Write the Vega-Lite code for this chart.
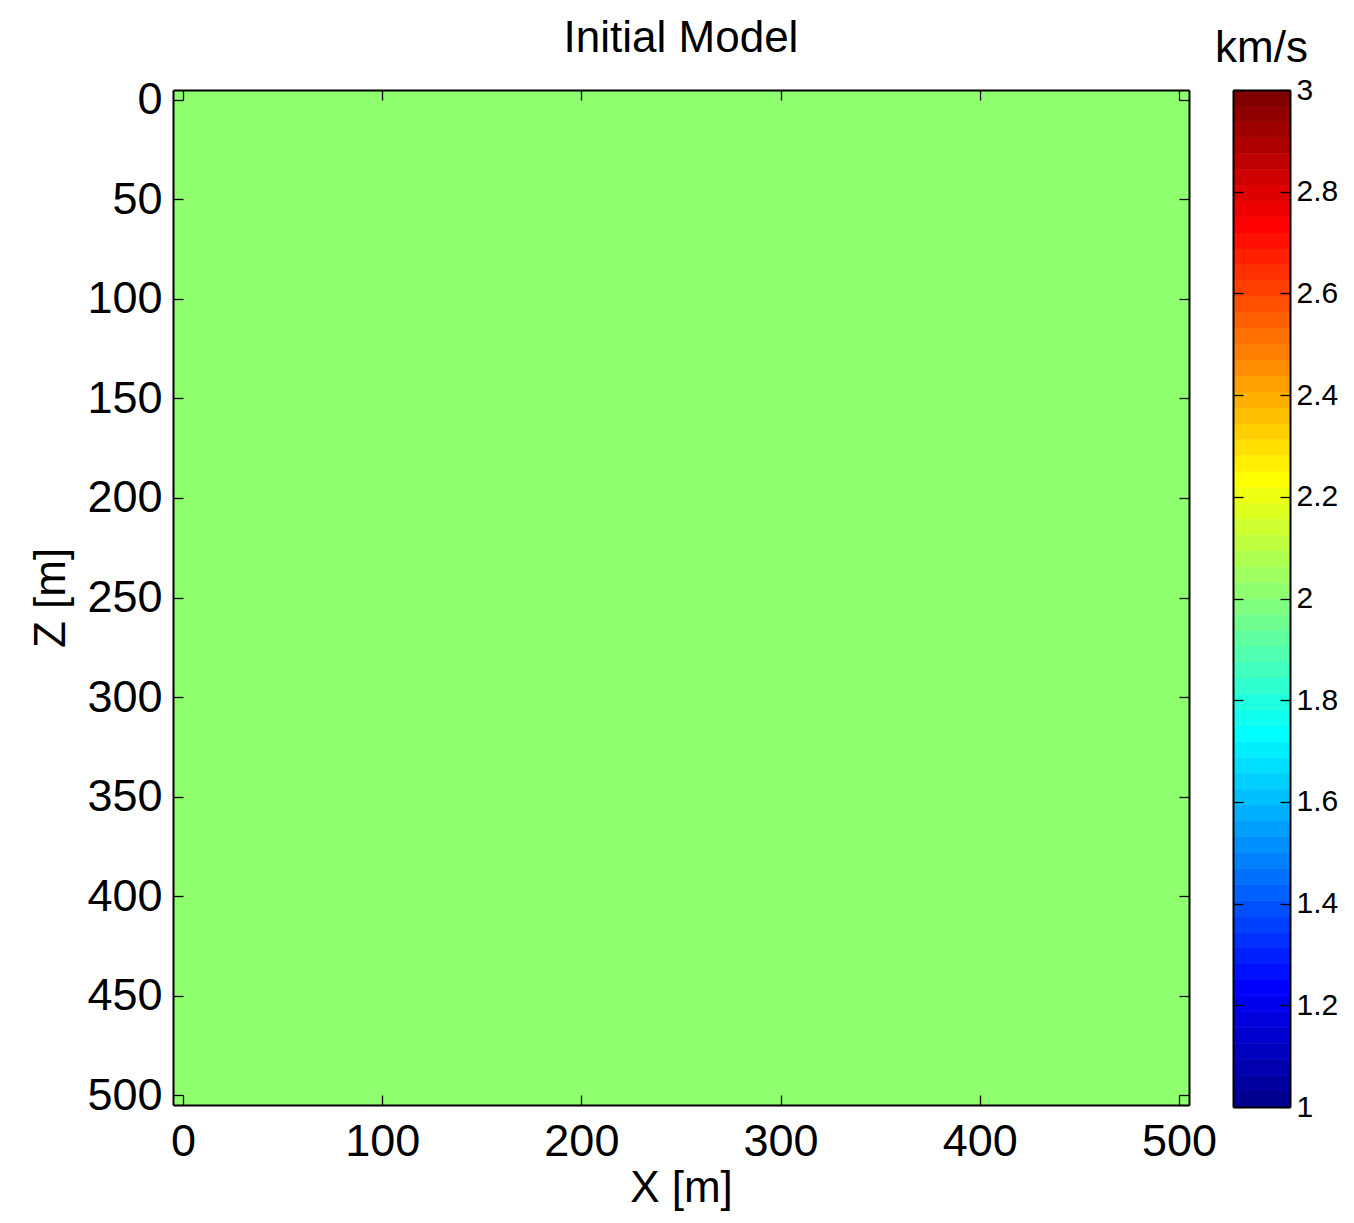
{
  "$schema": "https://vega.github.io/schema/vega-lite/v6.json",
  "background": "white",
  "padding": {"left": 29, "top": 16, "right": 5, "bottom": 5},
  "spacing": 44,
  "bounds": "flush",
  "resolve": {"scale": {"color": "independent"}},
  "config": {
    "font": "Liberation Sans",
    "view": {"stroke": null},
    "axis": {
      "grid": false,
      "domain": true,
      "domainColor": "black",
      "domainWidth": 2,
      "tickColor": "black",
      "tickSize": -10,
      "tickWidth": 1.3,
      "labelColor": "black",
      "labelFontSize": 45,
      "labelFont": "Liberation Sans",
      "titleColor": "black",
      "titleFontSize": 44,
      "titleFont": "Liberation Sans",
      "titleFontWeight": "normal",
      "zindex": 1
    },
    "title": {"color": "black", "font": "Liberation Sans", "fontWeight": "normal", "fontSize": 44}
  },
  "hconcat": [
    {
      "width": 1016,
      "height": 1015,
      "title": {"text": "Initial Model", "frame": "group", "anchor": "middle", "baseline": "alphabetic", "offset": 0, "dy": 18},
      "data": {"values": [{"x0": -5, "x1": 505, "z0": -5, "z1": 505, "v": 2}]},
      "layer": [
        {
          "mark": {"type": "rect"},
          "encoding": {
            "x": {"field": "x0", "type": "quantitative", "scale": {"domain": [-5, 505], "nice": false, "zero": false},
                  "axis": {"orient": "bottom", "values": [0, 100, 200, 300, 400, 500], "title": "X [m]", "labelPadding": 24, "titlePadding": 2, "zindex": 1}},
            "x2": {"field": "x1"},
            "y": {"field": "z0", "type": "quantitative", "scale": {"domain": [-5, 505], "reverse": true, "nice": false, "zero": false},
                  "axis": {"orient": "left", "values": [0, 50, 100, 150, 200, 250, 300, 350, 400, 450, 500], "title": "Z [m]", "labelPadding": 21, "titlePadding": 13, "zindex": 1}},
            "y2": {"field": "z1"},
            "color": {"field": "v", "type": "quantitative", "legend": null,
                      "scale": {"type": "quantize", "domain": [1, 3], "range": ["#00008F","#00009F","#0000AF","#0000BF","#0000CF","#0000DF","#0000EF","#0000FF","#0010FF","#0020FF","#0030FF","#0040FF","#0050FF","#0060FF","#0070FF","#0080FF","#008FFF","#009FFF","#00AFFF","#00BFFF","#00CFFF","#00DFFF","#00EFFF","#00FFFF","#10FFEF","#20FFDF","#30FFCF","#40FFBF","#50FFAF","#60FF9F","#70FF8F","#80FF80","#8FFF70","#9FFF60","#AFFF50","#BFFF40","#CFFF30","#DFFF20","#EFFF10","#FFFF00","#FFEF00","#FFDF00","#FFCF00","#FFBF00","#FFAF00","#FF9F00","#FF8F00","#FF8000","#FF7000","#FF6000","#FF5000","#FF4000","#FF3000","#FF2000","#FF1000","#FF0000","#EF0000","#DF0000","#CF0000","#BF0000","#AF0000","#9F0000","#8F0000","#800000"]}}
          }
        },
        {
          "mark": {"type": "rect"},
          "encoding": {
            "x": {"field": "x0", "type": "quantitative", "axis": {"orient": "top", "values": [0, 100, 200, 300, 400, 500], "labels": false, "title": null, "zindex": 1}},
            "x2": {"field": "x1"},
            "y": {"field": "z0", "type": "quantitative", "axis": {"orient": "right", "values": [0, 50, 100, 150, 200, 250, 300, 350, 400, 450, 500], "labels": false, "title": null, "zindex": 1}},
            "y2": {"field": "z1"},
            "color": {"field": "v", "type": "quantitative", "legend": null,
                      "scale": {"type": "quantize", "domain": [1, 3], "range": ["#00008F","#00009F","#0000AF","#0000BF","#0000CF","#0000DF","#0000EF","#0000FF","#0010FF","#0020FF","#0030FF","#0040FF","#0050FF","#0060FF","#0070FF","#0080FF","#008FFF","#009FFF","#00AFFF","#00BFFF","#00CFFF","#00DFFF","#00EFFF","#00FFFF","#10FFEF","#20FFDF","#30FFCF","#40FFBF","#50FFAF","#60FF9F","#70FF8F","#80FF80","#8FFF70","#9FFF60","#AFFF50","#BFFF40","#CFFF30","#DFFF20","#EFFF10","#FFFF00","#FFEF00","#FFDF00","#FFCF00","#FFBF00","#FFAF00","#FF9F00","#FF8F00","#FF8000","#FF7000","#FF6000","#FF5000","#FF4000","#FF3000","#FF2000","#FF1000","#FF0000","#EF0000","#DF0000","#CF0000","#BF0000","#AF0000","#9F0000","#8F0000","#800000"]}}
          }
        }
      ],
      "resolve": {"axis": {"x": "independent", "y": "independent"}}
    },
    {
      "width": 57,
      "height": 1017,
      "title": {"text": "km/s", "frame": "group", "anchor": "middle", "baseline": "alphabetic", "offset": 0, "dy": 31},
      "data": {"values": [
        {"lo": 1, "hi": 1.03125}, {"lo": 1.03125, "hi": 1.0625}, {"lo": 1.0625, "hi": 1.09375}, {"lo": 1.09375, "hi": 1.125},
        {"lo": 1.125, "hi": 1.15625}, {"lo": 1.15625, "hi": 1.1875}, {"lo": 1.1875, "hi": 1.21875}, {"lo": 1.21875, "hi": 1.25},
        {"lo": 1.25, "hi": 1.28125}, {"lo": 1.28125, "hi": 1.3125}, {"lo": 1.3125, "hi": 1.34375}, {"lo": 1.34375, "hi": 1.375},
        {"lo": 1.375, "hi": 1.40625}, {"lo": 1.40625, "hi": 1.4375}, {"lo": 1.4375, "hi": 1.46875}, {"lo": 1.46875, "hi": 1.5},
        {"lo": 1.5, "hi": 1.53125}, {"lo": 1.53125, "hi": 1.5625}, {"lo": 1.5625, "hi": 1.59375}, {"lo": 1.59375, "hi": 1.625},
        {"lo": 1.625, "hi": 1.65625}, {"lo": 1.65625, "hi": 1.6875}, {"lo": 1.6875, "hi": 1.71875}, {"lo": 1.71875, "hi": 1.75},
        {"lo": 1.75, "hi": 1.78125}, {"lo": 1.78125, "hi": 1.8125}, {"lo": 1.8125, "hi": 1.84375}, {"lo": 1.84375, "hi": 1.875},
        {"lo": 1.875, "hi": 1.90625}, {"lo": 1.90625, "hi": 1.9375}, {"lo": 1.9375, "hi": 1.96875}, {"lo": 1.96875, "hi": 2},
        {"lo": 2, "hi": 2.03125}, {"lo": 2.03125, "hi": 2.0625}, {"lo": 2.0625, "hi": 2.09375}, {"lo": 2.09375, "hi": 2.125},
        {"lo": 2.125, "hi": 2.15625}, {"lo": 2.15625, "hi": 2.1875}, {"lo": 2.1875, "hi": 2.21875}, {"lo": 2.21875, "hi": 2.25},
        {"lo": 2.25, "hi": 2.28125}, {"lo": 2.28125, "hi": 2.3125}, {"lo": 2.3125, "hi": 2.34375}, {"lo": 2.34375, "hi": 2.375},
        {"lo": 2.375, "hi": 2.40625}, {"lo": 2.40625, "hi": 2.4375}, {"lo": 2.4375, "hi": 2.46875}, {"lo": 2.46875, "hi": 2.5},
        {"lo": 2.5, "hi": 2.53125}, {"lo": 2.53125, "hi": 2.5625}, {"lo": 2.5625, "hi": 2.59375}, {"lo": 2.59375, "hi": 2.625},
        {"lo": 2.625, "hi": 2.65625}, {"lo": 2.65625, "hi": 2.6875}, {"lo": 2.6875, "hi": 2.71875}, {"lo": 2.71875, "hi": 2.75},
        {"lo": 2.75, "hi": 2.78125}, {"lo": 2.78125, "hi": 2.8125}, {"lo": 2.8125, "hi": 2.84375}, {"lo": 2.84375, "hi": 2.875},
        {"lo": 2.875, "hi": 2.90625}, {"lo": 2.90625, "hi": 2.9375}, {"lo": 2.9375, "hi": 2.96875}, {"lo": 2.96875, "hi": 3}
      ]},
      "layer": [
        {
          "mark": {"type": "rect"},
          "encoding": {
            "x": {"datum": 0, "type": "quantitative", "scale": {"domain": [0, 1], "nice": false, "zero": false},
                  "axis": {"orient": "bottom", "ticks": false, "labels": false, "title": null, "zindex": 1}},
            "x2": {"datum": 1},
            "y": {"field": "lo", "type": "quantitative", "scale": {"domain": [1, 3], "nice": false, "zero": false},
                  "axis": {"orient": "right", "values": [1, 1.2, 1.4, 1.6, 1.8, 2, 2.2, 2.4, 2.6, 2.8, 3], "format": "~g", "labelFontSize": 30, "labelPadding": 16, "title": null, "zindex": 1}},
            "y2": {"field": "hi"},
            "color": {"field": "lo", "type": "quantitative", "legend": null,
                      "scale": {"type": "quantize", "domain": [1, 3], "range": ["#00008F","#00009F","#0000AF","#0000BF","#0000CF","#0000DF","#0000EF","#0000FF","#0010FF","#0020FF","#0030FF","#0040FF","#0050FF","#0060FF","#0070FF","#0080FF","#008FFF","#009FFF","#00AFFF","#00BFFF","#00CFFF","#00DFFF","#00EFFF","#00FFFF","#10FFEF","#20FFDF","#30FFCF","#40FFBF","#50FFAF","#60FF9F","#70FF8F","#80FF80","#8FFF70","#9FFF60","#AFFF50","#BFFF40","#CFFF30","#DFFF20","#EFFF10","#FFFF00","#FFEF00","#FFDF00","#FFCF00","#FFBF00","#FFAF00","#FF9F00","#FF8F00","#FF8000","#FF7000","#FF6000","#FF5000","#FF4000","#FF3000","#FF2000","#FF1000","#FF0000","#EF0000","#DF0000","#CF0000","#BF0000","#AF0000","#9F0000","#8F0000","#800000"]}}
          }
        },
        {
          "mark": {"type": "rect"},
          "encoding": {
            "x": {"datum": 0, "type": "quantitative", "axis": {"orient": "top", "ticks": false, "labels": false, "title": null, "zindex": 1}},
            "x2": {"datum": 1},
            "y": {"field": "lo", "type": "quantitative", "axis": {"orient": "left", "values": [1, 1.2, 1.4, 1.6, 1.8, 2, 2.2, 2.4, 2.6, 2.8, 3], "labels": false, "title": null, "zindex": 1}},
            "y2": {"field": "hi"},
            "color": {"field": "lo", "type": "quantitative", "legend": null,
                      "scale": {"type": "quantize", "domain": [1, 3], "range": ["#00008F","#00009F","#0000AF","#0000BF","#0000CF","#0000DF","#0000EF","#0000FF","#0010FF","#0020FF","#0030FF","#0040FF","#0050FF","#0060FF","#0070FF","#0080FF","#008FFF","#009FFF","#00AFFF","#00BFFF","#00CFFF","#00DFFF","#00EFFF","#00FFFF","#10FFEF","#20FFDF","#30FFCF","#40FFBF","#50FFAF","#60FF9F","#70FF8F","#80FF80","#8FFF70","#9FFF60","#AFFF50","#BFFF40","#CFFF30","#DFFF20","#EFFF10","#FFFF00","#FFEF00","#FFDF00","#FFCF00","#FFBF00","#FFAF00","#FF9F00","#FF8F00","#FF8000","#FF7000","#FF6000","#FF5000","#FF4000","#FF3000","#FF2000","#FF1000","#FF0000","#EF0000","#DF0000","#CF0000","#BF0000","#AF0000","#9F0000","#8F0000","#800000"]}}
          }
        }
      ],
      "resolve": {"axis": {"x": "independent", "y": "independent"}}
    }
  ]
}
